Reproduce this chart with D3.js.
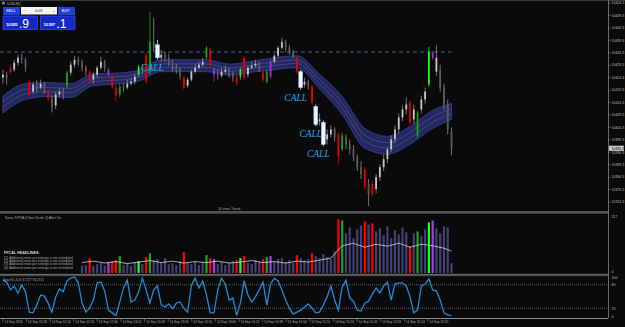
<!DOCTYPE html>
<html>
<head>
<meta charset="utf-8">
<script src="https://cdn.jsdelivr.net/npm/d3@7"></script>
<style>
    body { margin: 0; background: #0a0a0a; }
    svg { display: block; font-family: "Liberation Sans", Arial, sans-serif; }
</style>
</head>
<body>
<div id="chart"></div>
<script>

// DJ30 M1 bars
var opens = [10424.3,10425.5,10428.3,10427.5,10430.3,10432.3,10431.5,10422.7,10418.7,10421.5,
    10420.3,10421.9,10418.7,10415.9,10413.1,10417.5,10418.7,10420.7,10426.3,10429.5,
    10431.5,10430.7,10428.3,10426.7,10423.5,10425.5,10428.3,10430.7,10427.5,10424.7,
    10420.3,10417.5,10420.7,10420.3,10421.9,10422.7,10425.5,10428.7,10433.5,10426.3,
    10438.7,10437.5,10432.3,10433.5,10432.3,10430.3,10428.3,10427.5,10424.3,10421.1,
    10423.5,10426.7,10428.3,10429.5,10432.3,10435.5,10427.5,10425.5,10425.1,10426.7,
    10427.5,10425.9,10424.7,10424.7,10432.3,10425.5,10428.3,10429.1,10429.9,10426.3,
    10422.7,10424.7,10430.7,10433.1,10436.3,10438.7,10436.3,10434.7,10432.3,10426.7,
    10421.5,10422.7,10420.7,10412.7,10406.7,10406.3,10399.5,10401.5,10403.5,10401.5,
    10395.5,10400.3,10397.5,10395.5,10392.3,10388.3,10387.5,10381.5,10381.5,10379.5,
    10384.3,10388.3,10391.5,10395.5,10399.5,10403.5,10408.3,10411.5,10414.3,10407.5,
    10400.7,10411.5,10415.5,10421.5,10434.3,10426.7,10427.5,10420.3,10413.5,10402.7];

var highs = [10427.5,10426.7,10429.1,10431.5,10433.5,10433.9,10432.3,10423.5,10422.7,10423.5,
    10423.5,10422.7,10419.5,10417.1,10418.7,10420.3,10420.3,10427.1,10430.7,10433.1,
    10432.7,10431.5,10429.1,10427.5,10426.7,10429.1,10432.7,10431.5,10428.3,10425.5,
    10421.1,10421.9,10421.9,10423.5,10424.3,10425.9,10429.5,10429.9,10434.3,10450.7,
    10448.3,10439.5,10435.5,10434.7,10433.9,10431.5,10429.9,10428.3,10425.1,10424.3,
    10427.5,10429.9,10430.7,10432.3,10437.1,10436.3,10428.3,10427.5,10428.3,10429.1,
    10428.3,10426.7,10425.5,10428.3,10433.1,10429.1,10430.7,10431.5,10430.7,10427.1,
    10427.5,10431.5,10433.9,10437.1,10440.3,10439.5,10437.5,10435.5,10433.1,10427.5,
    10424.3,10423.5,10421.5,10413.5,10409.9,10407.1,10403.5,10405.1,10404.3,10402.3,
    10402.3,10401.5,10399.5,10397.1,10393.5,10390.7,10388.3,10383.5,10382.7,10385.5,
    10389.5,10393.5,10396.3,10401.1,10405.1,10409.9,10413.1,10416.3,10415.1,10413.5,
    10411.1,10417.1,10420.3,10436.7,10435.1,10437.5,10429.5,10421.9,10415.5,10404.3];

var lows = [10421.9,10421.5,10425.9,10426.7,10429.1,10429.9,10426.7,10416.7,10417.9,10418.7,
    10419.5,10417.9,10415.1,10410.3,10411.5,10416.3,10415.5,10419.9,10425.1,10428.3,
    10429.1,10426.7,10425.1,10421.9,10421.9,10424.3,10427.5,10426.7,10424.7,10419.9,
    10414.7,10416.3,10418.7,10419.5,10421.1,10421.5,10424.7,10425.9,10421.9,10425.5,
    10434.7,10431.5,10430.7,10430.7,10429.1,10426.7,10425.9,10423.5,10419.5,10420.3,
    10422.7,10425.9,10427.5,10428.7,10431.5,10428.7,10422.7,10423.5,10424.3,10425.9,
    10424.3,10422.7,10421.1,10423.5,10423.5,10424.3,10427.5,10428.3,10426.7,10422.7,
    10421.9,10423.9,10429.9,10432.3,10435.5,10434.7,10433.5,10432.3,10425.9,10419.5,
    10420.3,10419.5,10413.5,10404.7,10405.1,10396.7,10397.5,10400.3,10398.7,10389.5,
    10394.7,10395.5,10393.5,10390.7,10386.7,10383.5,10379.5,10372.7,10376.7,10377.9,
    10382.7,10386.7,10389.9,10394.3,10397.9,10401.9,10406.7,10409.5,10405.5,10405.9,
    10399.9,10409.9,10413.9,10420.7,10431.5,10425.1,10418.7,10411.5,10401.5,10393.1];

var closes = [10425.5,10424.3,10426.7,10430.3,10432.3,10431.5,10428.3,10417.5,10421.5,10420.3,
    10421.9,10419.5,10415.9,10412.3,10417.5,10418.7,10417.1,10426.3,10429.5,10431.5,
    10430.7,10428.3,10426.7,10422.7,10425.5,10428.3,10430.7,10428.3,10425.5,10420.7,
    10417.1,10420.7,10420.3,10421.9,10422.7,10424.7,10428.7,10427.5,10422.7,10438.7,
    10436.3,10432.3,10433.5,10432.3,10430.3,10428.3,10427.5,10425.1,10420.3,10423.5,
    10426.7,10428.3,10429.5,10430.7,10436.3,10429.5,10425.5,10425.1,10426.7,10427.5,
    10425.9,10424.3,10422.3,10427.5,10424.3,10428.3,10429.1,10429.9,10428.3,10423.5,
    10426.7,10430.7,10433.1,10436.3,10438.7,10436.3,10434.7,10433.1,10426.7,10420.3,
    10422.7,10420.7,10414.3,10405.5,10407.5,10397.5,10401.5,10403.5,10400.3,10392.7,
    10401.1,10397.5,10395.5,10392.3,10388.3,10385.5,10380.3,10377.5,10377.5,10384.3,
    10388.3,10391.5,10395.5,10399.5,10403.5,10408.3,10411.5,10413.5,10406.3,10411.5,
    10410.3,10415.5,10418.7,10434.7,10432.3,10432.3,10420.3,10413.5,10403.5,10395.5];

// PVA colour of each bar: r red, g green, l lime, p purple, s signal box, . normal
var tones = ("..r....r.." + "..r....g.." + "...r....pr" + "rg....l.rg" + ".s......r." +
    "....grp..." + "..rlr....r" + "gp......rs" + "..rs.s...r" + "g.....r.r." +
    "........r." + "g..lp.....").split("");

// 50 ema trend band, sampled at these bars
var bandBars = [0,6,12,18,24,30,36,42,48,54,60,66,72,78,84,90,96,102,108,114,119];
var bandMid = [10413.5,10418.7,10419.5,10419.1,10423.5,10423.9,10425.1,10429.1,10429.1,10429.1,
    10427.5,10428.7,10429.9,10430.7,10422.7,10413.1,10399.9,10397.1,10401.1,10407.5,10410.7];
var bandHalf = [3.4,3.2,2.8,2.8,2.4,2.2,2.2,2.4,2.4,2.4,2.2,2.2,2.4,2.4,3.0,3.6,4.0,3.6,3.6,3.6,3.2];

// Sonic R PVA volume
var volumes = [null,null,null,null,null,null,null,null,null,null,
    null,null,null,null,null,null,null,null,null,null,null,
    15,16,30,14,18,20,15,22,24,
    26,34,16,20,14,22,24,18,32,40,
    26,28,22,30,18,20,16,24,42,20,
    18,24,16,22,36,30,28,18,22,16,
    20,24,26,30,34,20,18,26,22,28,
    32,34,24,28,30,22,26,20,36,30,
    26,28,40,34,30,38,32,28,44,108,
    106,80,92,70,88,96,104,98,100,84,
    90,76,94,70,86,78,92,82,54,80,
    84,74,88,102,106,90,80,94,92,20];
var avgBars = [21,24,27,30,33,36,39,42,45,48,51,54,57,60,63,66,69,72,75,78,81,84,87,90,93,96,99,102,105,108,111,114,117,119];
var avgVolume = [21,24,20,23,19,22,25,21,24,20,23,21,24,20,22,25,21,23,20,24,22,26,30,55,60,52,58,54,60,52,58,55,50,44];

// Stochastic main line
var stoch = [92,87,67,77,59,79,62,10,8,28,
    54,51,33,10,49,69,62,90,97,100,
    85,33,10,20,41,85,87,64,15,8,
    1,36,72,92,36,41,62,97,67,33,
    67,77,28,23,31,18,33,36,20,10,
    79,97,72,90,54,8,8,67,97,82,
    41,46,1,33,90,54,36,49,67,87,
    28,82,97,90,67,41,20,5,10,15,
    23,31,20,8,10,28,49,77,41,15,
    74,92,46,38,15,13,33,38,56,72,
    59,77,87,41,82,85,85,77,49,8,
    15,77,82,95,67,64,41,8,3,1];

var priceTicks = [10454.3,10449.3,10444.3,10439.3,10434.3,10429.3,10424.3,10419.3,
    10414.3,10409.3,10404.3,10399.3,10394.3,10389.3,10384.3,10379.3,10374.3];
var timeTicks = ["11:42","11:58","12:14","12:30","12:46","13:02","13:18","13:34","13:50","14:06",
    "14:22","14:38","14:54","15:10","15:26","15:42","15:58","16:14","16:30"];
var firstBarTime = "11:42", lastBarTime = "16:46";
var callBars = [41, 79, 83, 85];
var dashLevel = 10434.6;
var bid = 10395.9, ask = 10397.1;

var toneColor = { r: "#e80000", g: "#16a316", l: "#22f022", p: "#a030e8" };
var volColor = { r: "#ff0000", g: "#18a818", l: "#20ff30", p: "#a33cf0" };

var width = 625, height = 327;
var svg = d3.select("#chart").append("svg")
    .attr("width", width)
    .attr("height", height);

svg.append("rect")
    .attr("width", width)
    .attr("height", height)
    .attr("fill", "#0a0a0a");

// Scales
var n = closes.length;
var x = d3.scaleLinear().domain([0, n - 1]).range([2.9, 451.5]);
var y = d3.scaleLinear().domain([10454.3, 10374.3]).range([3, 202]);
var yVol = d3.scaleLinear().domain([0, 117]).range([273, 215]);
var yStoch = d3.scaleLinear().domain([0, 100]).range([316, 277]);

var parseTime = d3.timeParse("%Y-%m-%d %H:%M");
var t = function(s) { return parseTime("2016-09-14 " + s); };
var xTime = d3.scaleTime().domain([t(firstBarTime), t(lastBarTime)]).range(x.range());

// Panel frames
var plotRight = 608;
svg.append("line").attr("x1", 0).attr("x2", width).attr("y1", 0.5).attr("y2", 0.5)
    .attr("stroke", "#3a3a3a");
svg.append("line").attr("x1", plotRight + 0.5).attr("x2", plotRight + 0.5).attr("y1", 0).attr("y2", 318)
    .attr("stroke", "#6a6a6a");
[211.5, 274].forEach(function(yy) {
    svg.append("rect").attr("x", 0).attr("y", yy).attr("width", plotRight).attr("height", 2.2)
        .attr("fill", "#4a4a4a");
    svg.append("line").attr("x1", 0).attr("x2", plotRight).attr("y1", yy + 0.3).attr("y2", yy + 0.3)
        .attr("stroke", "#8a8a8a").attr("stroke-width", 0.6);
});
svg.append("line").attr("x1", 0).attr("x2", plotRight).attr("y1", 318.5).attr("y2", 318.5)
    .attr("stroke", "#8a8a8a");

// EMA band
var bandData = bandBars.map(function(b, i) {
    return { i: b, mid: bandMid[i], half: bandHalf[i] };
});
var band = svg.append("g");
band.append("path")
    .datum(bandData)
    .attr("fill", "#232862")
    .attr("stroke", "#363c86")
    .attr("stroke-width", 0.9)
    .attr("d", d3.area().curve(d3.curveMonotoneX)
        .x(function(d) { return x(d.i); })
        .y0(function(d) { return y(d.mid - d.half); })
        .y1(function(d) { return y(d.mid + d.half); }));
[-0.3, 0.3].forEach(function(k) {
    band.append("path")
        .datum(bandData)
        .attr("fill", "none")
        .attr("stroke", "#5f6288")
        .attr("stroke-width", 0.5)
        .attr("d", d3.line().curve(d3.curveMonotoneX)
            .x(function(d) { return x(d.i); })
            .y(function(d) { return y(d.mid + k * d.half); }));
});

// Dashed level
svg.append("line")
    .attr("x1", 0).attr("x2", x(n - 1))
    .attr("y1", y(dashLevel)).attr("y2", y(dashLevel))
    .attr("stroke", "#3b7cc4")
    .attr("stroke-width", 0.8)
    .attr("stroke-dasharray", "4,3");

// Candles
var bars = d3.range(n).map(function(i) {
    return { i: i, o: opens[i], h: highs[i], l: lows[i], c: closes[i], tone: tones[i] };
});
var candle = svg.append("g").selectAll("g").data(bars).enter().append("g");

candle.append("line")
    .attr("x1", function(d) { return x(d.i); })
    .attr("x2", function(d) { return x(d.i); })
    .attr("y1", function(d) { return y(d.h); })
    .attr("y2", function(d) { return y(d.l); })
    .attr("stroke", function(d) {
        if (toneColor[d.tone]) return toneColor[d.tone];
        return d.tone === "s" ? "#cfe6ff" : "#8c8c8c";
    })
    .attr("stroke-width", 0.8);

candle.append("rect")
    .attr("x", function(d) { return x(d.i) - (d.tone === "s" ? 1.9 : 0.9); })
    .attr("width", function(d) { return d.tone === "s" ? 3.8 : 1.8; })
    .attr("y", function(d) { return y(Math.max(d.o, d.c)); })
    .attr("height", function(d) { return Math.max(0.8, Math.abs(y(d.o) - y(d.c))); })
    .attr("fill", function(d) {
        if (toneColor[d.tone]) return toneColor[d.tone];
        if (d.tone === "s") return "#eef6ff";
        return d.c >= d.o ? "#c4c4c4" : "#5a5a5a";
    })
    .attr("stroke", function(d) { return d.tone === "s" ? "#9fd0ff" : "none"; })
    .attr("stroke-width", 0.6);

// CALL signals
svg.append("g").selectAll("text").data(callBars).enter().append("text")
    .attr("x", function(i) { return x(i) - 5; })
    .attr("y", function(i) { return y(lows[i]) + 11; })
    .attr("text-anchor", "middle")
    .style("font-family", "'Liberation Serif', 'DejaVu Serif', serif")
    .style("font-style", "italic")
    .attr("font-size", 9.5)
    .attr("fill", "#1ea6ee")
    .text("CALL");

svg.append("text")
    .attr("x", 218).attr("y", 209.5)
    .attr("font-size", 3.6).attr("fill", "#a0a0a0")
    .text("50 ema Trend");

// Price axis
var priceAxis = svg.append("g");
priceTicks.forEach(function(p) {
    priceAxis.append("line").attr("x1", plotRight).attr("x2", plotRight + 2.5)
        .attr("y1", y(p)).attr("y2", y(p)).attr("stroke", "#8a8a8a").attr("stroke-width", 0.6);
    priceAxis.append("text").attr("x", plotRight + 3.5).attr("y", y(p) + 1.3)
        .attr("font-size", 3.5).attr("fill", "#b8b8b8").text(d3.format(".1f")(p));
});
priceAxis.append("rect")
    .attr("x", plotRight + 1).attr("y", y(bid) - 2.6)
    .attr("width", 15).attr("height", 5.2).attr("fill", "#c8c8c8");
priceAxis.append("text")
    .attr("x", plotRight + 3.5).attr("y", y(bid) + 1.3)
    .attr("font-size", 3.5).attr("fill", "#000").text(d3.format(".1f")(bid));

// Volume panel
svg.append("g").selectAll("rect").data(bars.filter(function(d) { return volumes[d.i] !== null; }))
    .enter().append("rect")
    .attr("x", function(d) { return x(d.i) - 1.1; })
    .attr("width", 2.2)
    .attr("y", function(d) { return yVol(volumes[d.i]); })
    .attr("height", function(d) { return yVol(0) - yVol(volumes[d.i]); })
    .attr("fill", function(d) { return volColor[d.tone] || "#414173"; });

svg.append("path")
    .datum(avgBars)
    .attr("fill", "none")
    .attr("stroke", "#e6e6e6")
    .attr("stroke-width", 0.7)
    .attr("d", d3.line()
        .x(function(b) { return x(b); })
        .y(function(b, k) { return yVol(avgVolume[k]); }));

svg.append("text").attr("x", 5).attr("y", 218.5)
    .attr("font-size", 3.4).attr("fill", "#a8a8a8")
    .text("Sonic R PVA  (Chart Scale 2)    Alert On");

var news = svg.append("g").attr("font-size", 3.2).attr("fill", "#a8a8a8");
news.append("text").attr("x", 4).attr("y", 254).attr("font-weight", "bold").attr("fill", "#d8d8d8")
    .attr("font-size", 3.7).text("FFCAL HEADLINES:");
[1, 2, 3, 4].forEach(function(k, j) {
    news.append("text").attr("x", 4).attr("y", 258.7 + j * 3.3)
        .text("[" + k + "]:  Additional news per settings is not scheduled");
});

[[117, 217.5], [0, 272.5]].forEach(function(v) {
    svg.append("text").attr("x", plotRight + 3.5).attr("y", v[1])
        .attr("font-size", 3.5).attr("fill", "#b8b8b8").text(v[0]);
});

// Stochastic panel
[80, 20].forEach(function(lv) {
    svg.append("line").attr("x1", 0).attr("x2", plotRight)
        .attr("y1", yStoch(lv)).attr("y2", yStoch(lv))
        .attr("stroke", "#9a9a9a").attr("stroke-width", 0.6).attr("stroke-dasharray", "1,1");
});
svg.append("path")
    .datum(stoch)
    .attr("fill", "none")
    .attr("stroke", "#1f8ad6")
    .attr("stroke-width", 1.3)
    .attr("d", d3.line()
        .x(function(v, i) { return x(i); })
        .y(function(v) { return yStoch(v); }));

svg.append("text").attr("x", 3).attr("y", 280.5)
    .attr("font-size", 3.4).attr("fill", "#a8a8a8")
    .text("Stoch(5,3,3) 8.7277 8.2572");

[[100, 278.5], [80, 285.5], [20, 309.5], [0, 317.5]].forEach(function(v) {
    svg.append("text").attr("x", plotRight + 3.5).attr("y", v[1])
        .attr("font-size", 3.5).attr("fill", "#b8b8b8").text(v[0]);
});

// Time axis
var timeAxis = svg.append("g");
timeTicks.forEach(function(s, k) {
    var xx = xTime(t(s));
    timeAxis.append("line").attr("x1", xx).attr("x2", xx).attr("y1", 318.5).attr("y2", 322)
        .attr("stroke", "#8a8a8a").attr("stroke-width", 0.6);
    timeAxis.append("text").attr("x", xx + 1.5).attr("y", 323)
        .attr("font-size", 3.2).attr("fill", "#b0b0b0")
        .text(k === 0 ? "14 Sep 2016" : "14 Sep " + s);
});

// Title and one-click trading panel
svg.append("rect").attr("x", 2).attr("y", 1.8).attr("width", 3).attr("height", 2.6).attr("fill", "#7a7a7a");
svg.append("text").attr("x", 7).attr("y", 4.6).attr("font-size", 3.4).attr("fill", "#b8b8b8").text("DJ30,M1");

var panel = svg.append("g");
panel.append("rect").attr("x", 3).attr("y", 7).attr("width", 17).attr("height", 8).attr("fill", "#2140d8");
panel.append("text").attr("x", 6).attr("y", 12.4).attr("font-size", 4).attr("fill", "#fff").text("SELL");
panel.append("rect").attr("x", 21).attr("y", 7).attr("width", 36).attr("height", 7.5).attr("fill", "#f4f4f4");
panel.append("text").attr("x", 23.5).attr("y", 12).attr("font-size", 4).attr("fill", "#555").text("\u2212");
panel.append("text").attr("x", 39).attr("y", 12).attr("font-size", 3.8).attr("fill", "#222")
    .attr("text-anchor", "middle").text("0.01");
panel.append("text").attr("x", 52.5).attr("y", 12).attr("font-size", 4).attr("fill", "#555").text("+");
panel.append("rect").attr("x", 58).attr("y", 7).attr("width", 17).attr("height", 8).attr("fill", "#2140d8");
panel.append("text").attr("x", 61.5).attr("y", 12.4).attr("font-size", 4).attr("fill", "#fff").text("BUY");

[[3, bid], [40.5, ask]].forEach(function(b) {
    var parts = d3.format(".1f")(b[1]).split(".");
    panel.append("rect").attr("x", b[0]).attr("y", 16).attr("width", 34.5).attr("height", 13.5)
        .attr("fill", "#1428c4").attr("stroke", "#3f5cf0").attr("stroke-width", 0.6);
    panel.append("text").attr("x", b[0] + 3).attr("y", 26).attr("font-size", 4.2).attr("fill", "#fff")
        .attr("font-weight", "bold").text(parts[0]);
    panel.append("text").attr("x", b[0] + 16).attr("y", 27.5).attr("font-size", 12).attr("fill", "#fff")
        .text("." + parts[1]);
});

</script>
</body>
</html>
